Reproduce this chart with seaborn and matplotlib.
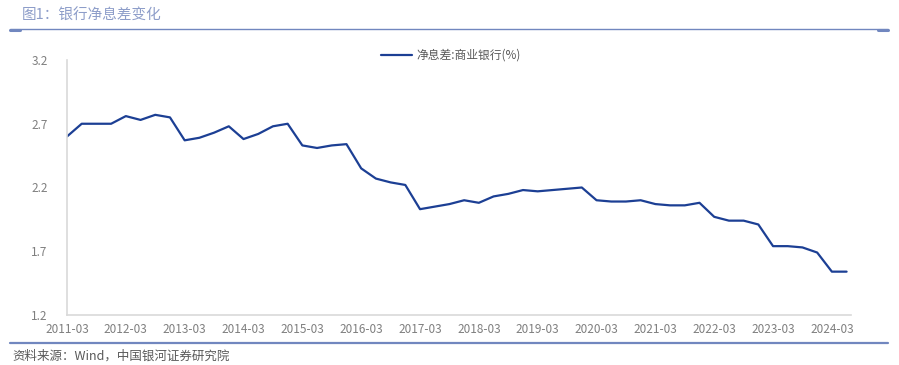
import matplotlib
matplotlib.use("Agg")
import matplotlib.pyplot as plt
import seaborn as sns
import pandas as pd
import numpy as np
from matplotlib.lines import Line2D

sns.set_theme(style="white")
plt.rcParams['font.family'] = ['Noto Sans CJK SC', 'DejaVu Sans']

years = list(range(2011, 2025))
quarters = [f"{y}-{m:02d}" for y in years for m in (3, 6, 9, 12)][:54]
nim = [2.60, 2.70, 2.70, 2.70,
       2.76, 2.73, 2.77, 2.75,
       2.57, 2.59, 2.63, 2.68,
       2.58, 2.62, 2.68, 2.70,
       2.53, 2.51, 2.53, 2.54,
       2.35, 2.27, 2.24, 2.22,
       2.03, 2.05, 2.07, 2.10,
       2.08, 2.13, 2.15, 2.18,
       2.17, 2.18, 2.19, 2.20,
       2.10, 2.09, 2.09, 2.10,
       2.07, 2.06, 2.06, 2.08,
       1.97, 1.94, 1.94, 1.91,
       1.74, 1.74, 1.73, 1.69,
       1.54, 1.54]
series_name = "净息差:商业银行(%)"
title = "图1：银行净息差变化"
source = "资料来源：Wind，中国银河证券研究院"
yticks = [1.2, 1.7, 2.2, 2.7, 3.2]
xtick_labels = [f"{y}-03" for y in years]

df = pd.DataFrame({"idx": np.arange(len(nim)), "value": nim})

fig = plt.figure(figsize=(8.99, 3.65), dpi=100)
ax = fig.add_axes([67/899, 1-315/365, (851-67)/899, (315-60)/365])

line_color = "#1c3f94"
sns.lineplot(data=df, x="idx", y="value", ax=ax, color=line_color, linewidth=1.6)

ax.set_xlim(0, 53.3)
ax.set_ylim(1.2, 3.2)
ax.set_yticks(yticks)
ax.set_yticklabels([f"{v:.1f}" for v in yticks])
ax.set_xticks(np.arange(0, 53, 4))
ax.set_xticklabels(xtick_labels)
ax.set_xlabel("")
ax.set_ylabel("")
for s in ["top", "right"]:
    ax.spines[s].set_visible(False)
for s in ["left", "bottom"]:
    ax.spines[s].set_color("#d9d9d9")
    ax.spines[s].set_linewidth(1.2)
ax.tick_params(axis="x", direction="in", length=4, color="#d9d9d9", width=1,
               labelsize=8.5, labelcolor="#7f7f7f", pad=6)
ax.tick_params(axis="y", length=0, labelsize=8.5, labelcolor="#7f7f7f", pad=14)
ax.grid(False)

handle = Line2D([], [], color=line_color, linewidth=1.6)
ax.legend([handle], [series_name], loc="upper center", bbox_to_anchor=(0.49, 1.085),
          frameon=False, fontsize=8.5, labelcolor="#595959", handlelength=2.6,
          handletextpad=0.4)

# header / footer decoration
fig.text(22/899, 1-16/365, title, fontsize=10.5, color="#8d9dc9", va="center", ha="left")
hdr = "#7187bf"
fig.add_artist(Line2D([10/899, 888/899], [1-29/365, 1-29/365], color=hdr, linewidth=1.0,
                      transform=fig.transFigure))
fig.add_artist(Line2D([10/899, 20/899], [1-29.5/365, 1-29.5/365], color=hdr, linewidth=2.2,
                      transform=fig.transFigure))
fig.add_artist(Line2D([878/899, 888/899], [1-29.5/365, 1-29.5/365], color=hdr, linewidth=2.2,
                      transform=fig.transFigure))
fig.add_artist(Line2D([10/899, 888/899], [1-343/365, 1-343/365], color=hdr, linewidth=1.6,
                      transform=fig.transFigure))
fig.text(12/899, 1-356/365, source, fontsize=9, color="#595959", va="center", ha="left",
         style="italic")

fig.savefig("out.png", dpi=100)
